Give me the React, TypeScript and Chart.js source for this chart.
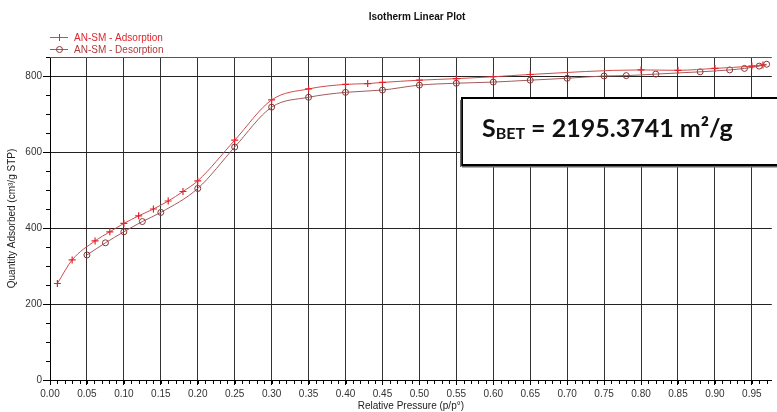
import { useEffect, useRef } from 'react';
import { Chart, registerables } from 'chart.js';

Chart.register(...registerables);

const chartTitle = 'Isotherm Linear Plot';
const seriesNames = ['AN-SM - Adsorption', 'AN-SM - Desorption'];
const xAxisTitle = 'Relative Pressure (p/p°)';
const yAxisTitle = 'Quantity Adsorbed (cm³/g STP)';
const betPrefix = 'S';
const betSub = 'BET';
const betValue = ' = 2195.3741 m²/g';

const adsP = [0.01, 0.03, 0.061, 0.081, 0.1, 0.12, 0.14, 0.16, 0.18, 0.2, 0.25, 0.3, 0.35, 0.4, 0.43, 0.45, 0.5, 0.55, 0.6, 0.65, 0.8, 0.85, 0.9, 0.95, 0.965];
const adsQ = [254, 316, 366, 390, 412, 432, 450, 471, 496, 524, 631, 737, 766, 778, 780, 783, 789, 793, 798, 804, 816, 815, 820, 826, 829];

const desP = [0.05, 0.075, 0.1, 0.125, 0.15, 0.2, 0.25, 0.3, 0.35, 0.4, 0.45, 0.5, 0.55, 0.6, 0.65, 0.7, 0.75, 0.78, 0.82, 0.88, 0.92, 0.94, 0.96, 0.97];
const desQ = [329, 361, 390, 417, 441, 504, 613, 718, 744, 757, 763, 776, 781, 784, 789, 794, 800, 801, 805, 811, 816, 820, 826, 831];

const xTickValues = [0, 0.05, 0.1, 0.15, 0.2, 0.25, 0.3, 0.35, 0.4, 0.45, 0.5, 0.55, 0.6, 0.65, 0.7, 0.75, 0.8, 0.85, 0.9, 0.95];
const yTickValues = [0, 200, 400, 600, 800];
const xMinorStep = 0.01;
const yMinorStep = 50;

const ADS_COLOR = '#e3222b';
const ADS_LINE = '#d24a4a';
const DES_COLOR = '#8e3434';
const DES_LINE = '#a45a5a';
const FONT = "'Liberation Sans', Arial, sans-serif";

const decor = {
  id: 'decor',
  afterDraw(chart: any) {
    const { ctx, chartArea, scales } = chart;
    const xs = scales.x;
    const ys = scales.y;
    ctx.save();
    ctx.strokeStyle = '#555';
    ctx.lineWidth = 1;
    ctx.beginPath();
    ctx.moveTo(chartArea.left, chartArea.top + 0.5);
    ctx.lineTo(chartArea.right, chartArea.top + 0.5);
    ctx.stroke();
    ctx.strokeStyle = '#000';
    ctx.beginPath();
    for (let v = 0; v <= xs.max + 1e-9; v += xMinorStep) {
      const px = Math.round(xs.getPixelForValue(v)) + 0.5;
      ctx.moveTo(px, chartArea.bottom);
      ctx.lineTo(px, chartArea.bottom + 4);
    }
    for (let v = 0; v <= ys.max + 1e-9; v += yMinorStep) {
      const py = Math.round(ys.getPixelForValue(v)) + 0.5;
      ctx.moveTo(chartArea.left - 4, py);
      ctx.lineTo(chartArea.left, py);
    }
    ctx.stroke();

    ctx.fillStyle = '#111';
    ctx.font = `bold 10px ${FONT}`;
    ctx.textAlign = 'center';
    ctx.textBaseline = 'middle';
    ctx.fillText(chartTitle, 417, 17);

    const rows = [
      { y: 37, color: ADS_COLOR, line: ADS_LINE, style: 'cross', text: seriesNames[0], tc: '#e0262e' },
      { y: 49, color: DES_COLOR, line: DES_LINE, style: 'circle', text: seriesNames[1], tc: '#b03a3a' },
    ];
    ctx.textAlign = 'left';
    ctx.font = `10px ${FONT}`;
    rows.forEach((r) => {
      ctx.strokeStyle = r.line;
      ctx.lineWidth = 1;
      ctx.beginPath();
      ctx.moveTo(50, r.y + 0.5);
      ctx.lineTo(68, r.y + 0.5);
      ctx.stroke();
      ctx.strokeStyle = r.color;
      ctx.beginPath();
      if (r.style === 'cross') {
        ctx.moveTo(59.5, r.y - 3);
        ctx.lineTo(59.5, r.y + 4);
      } else {
        ctx.arc(59.5, r.y + 0.5, 3, 0, Math.PI * 2);
      }
      ctx.stroke();
      ctx.fillStyle = r.tc;
      ctx.fillText(r.text, 74, r.y + 1);
    });

    const bx = 462, by = 98, bw = 340, bh = 67;
    ctx.fillStyle = '#fff';
    ctx.fillRect(bx, by, bw, bh);
    ctx.strokeStyle = '#000';
    ctx.lineWidth = 2;
    ctx.strokeRect(bx, by, bw, bh);
    ctx.fillStyle = '#666';
    ctx.fillRect(bx - 2, by + 2, 1.5, bh);
    ctx.fillRect(bx, by + bh + 1, bw, 1.5);

    ctx.fillStyle = '#111';
    ctx.textBaseline = 'alphabetic';
    ctx.textAlign = 'left';
    let tx = 482;
    const base = 137;
    ctx.font = `bold 25px Lato, ${FONT}`;
    ctx.fillText(betPrefix, tx, base);
    tx += ctx.measureText(betPrefix).width;
    ctx.font = `bold 16px Lato, ${FONT}`;
    ctx.fillText(betSub, tx, base + 2);
    tx += ctx.measureText(betSub).width;
    ctx.font = `bold 25px Lato, ${FONT}`;
    ctx.fillText(betValue, tx, base);
    ctx.restore();
  },
};

export default function App() {
  const ref = useRef<HTMLCanvasElement | null>(null);
  useEffect(() => {
    if (!ref.current) return;
    const chart = new Chart(ref.current, {
      type: 'line',
      data: {
        datasets: [
          {
            label: seriesNames[0],
            data: adsP.map((p, i) => ({ x: p, y: adsQ[i] })),
            borderColor: ADS_LINE,
            borderWidth: 1,
            pointStyle: 'cross',
            pointRadius: 3.5,
            pointBorderColor: ADS_COLOR,
            pointBorderWidth: 1.2,
            cubicInterpolationMode: 'monotone',
            fill: false,
          },
          {
            label: seriesNames[1],
            data: desP.map((p, i) => ({ x: p, y: desQ[i] })),
            borderColor: DES_LINE,
            borderWidth: 1,
            pointStyle: 'circle',
            pointRadius: 3,
            pointBackgroundColor: 'rgba(0,0,0,0)',
            pointBorderColor: DES_COLOR,
            pointBorderWidth: 1,
            cubicInterpolationMode: 'monotone',
            fill: false,
          },
        ],
      },
      options: {
        animation: false,
        responsive: false,
        maintainAspectRatio: false,
        layout: { padding: { top: 57, left: 0, right: 0, bottom: 0 } },
        plugins: {
          legend: { display: false },
          title: { display: false },
          tooltip: { enabled: false },
        },
        scales: {
          x: {
            type: 'linear',
            min: 0,
            max: 0.977,
            afterBuildTicks: (s: any) => {
              s.ticks = xTickValues.map((v) => ({ value: v }));
            },
            afterFit: (s: any) => {
              s.height = 32;
            },
            ticks: {
              autoSkip: false,
              maxRotation: 0,
              padding: 3,
              color: '#333',
              font: { family: FONT, size: 10 },
              callback: (v: any) => Number(v).toFixed(2),
            },
            grid: { color: '#333', lineWidth: 1, tickLength: 5, tickColor: '#000' },
            border: { display: true, color: '#000', width: 1 },
            title: {
              display: true,
              text: xAxisTitle,
              color: '#222',
              font: { family: FONT, size: 10 },
              padding: { top: 0, bottom: 0 },
            },
          },
          y: {
            type: 'linear',
            min: 0,
            max: 850,
            afterBuildTicks: (s: any) => {
              s.ticks = yTickValues.map((v) => ({ value: v }));
            },
            afterFit: (s: any) => {
              s.width = 50;
            },
            ticks: {
              padding: 1,
              color: '#333',
              font: { family: FONT, size: 10 },
            },
            grid: { color: '#222', lineWidth: 1, tickLength: 7, tickColor: '#000' },
            border: { display: true, color: '#000', width: 1 },
            title: {
              display: true,
              text: yAxisTitle,
              color: '#222',
              font: { family: FONT, size: 10 },
              padding: { top: 6, bottom: 0 },
            },
          },
        },
      },
      plugins: [decor],
    });
    return () => chart.destroy();
  }, []);
  return (
    <div style={{ position: 'fixed', left: 0, top: 0, width: 777, height: 412, background: '#fff' }}>
      <canvas ref={ref} width={777} height={412} style={{ width: 777, height: 412, display: 'block' }} />
    </div>
  );
}
